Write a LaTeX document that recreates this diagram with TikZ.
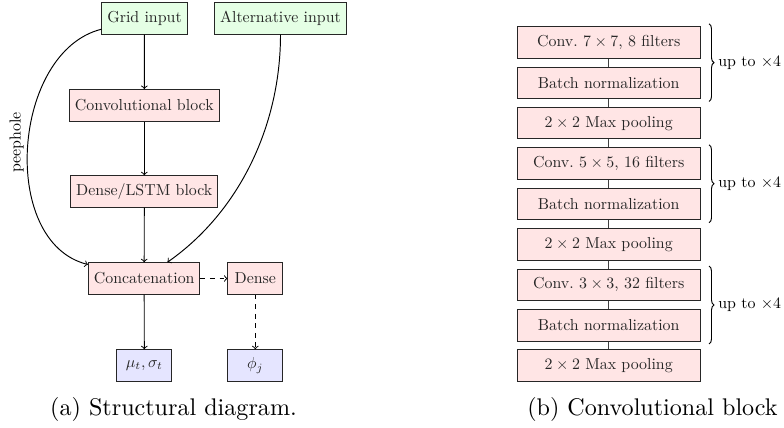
\documentclass[tikz,border=0pt]{standalone}
\usetikzlibrary{decorations.pathreplacing, calc}
\begin{document}
\begin{tikzpicture}[x=0.6288pt, y=0.6288pt,
  box/.style={draw=black!85, line width=0.6pt, minimum height=19.8pt, inner xsep=3.4pt, inner ysep=0pt,
    minimum width=34.4pt, font=\fontsize{10}{12}\selectfont, text=black!85},
  inbox/.style={box, fill=green!10},
  procbox/.style={box, fill=red!10},
  outbox/.style={box, fill=blue!10},
  layerbox/.style={box, fill=red!10, minimum width=114.9pt},
  flow/.style={->, line width=0.6pt},
  dflow/.style={->, dashed, line width=0.6pt},
  link/.style={line width=0.6pt, draw=black!75},
  grp/.style={decorate, decoration={brace, amplitude=3.1pt}, line width=0.6pt},
  grplabel/.style={font=\fontsize{10}{12}\selectfont, anchor=west, inner sep=0pt},
  caption/.style={inner sep=0pt}]
\useasboundingbox (0,0) rectangle (784,-428);

% structural diagram
\node[inbox] (grid) at (144.5,-18.5) {Grid input};
\node[inbox] (alt) at (280.5,-18.5) {Alternative input};
\node[procbox] (conv) at (144.3,-105.3) {Convolutional block};
\node[procbox] (lstm) at (144.3,-191.5) {Dense/LSTM block};
\node[procbox] (concat) at (144.2,-278.5) {Concatenation};
\node[procbox] (dense) at (255.3,-278.5) {Dense};
\node[outbox] (mu) at (144.3,-365.5) {$\mu_t, \sigma_t$};
\node[outbox] (phi) at (255.3,-365.5) {$\phi_j$};

\draw[flow] (grid) -- (conv);
\draw[flow] (conv) -- (lstm);
\draw[flow] (lstm) -- (concat);
\draw[flow] (concat) -- (mu);
\draw[dflow] (concat) -- (dense);
\draw[dflow] (dense) -- (phi);
\draw[flow] (grid) to[out=194, in=166, looseness=1.0] (concat);
\draw[flow] (alt) to[out=270, in=35, looseness=0.9] (concat);
\node[rotate=90, font=\fontsize{10}{12}\selectfont, inner sep=0pt] (peep) at (16.7,-142.5) {peephole};

\node[caption] (capa) at (173.5,-409) {\scalebox{1.515}{\fontsize{10}{12}\selectfont (a) Structural diagram.}};

% convolutional block
\node[layerbox] (c1) at (608.7,-42.5) {Conv.\ $7\times7$, 8 filters};
\node[layerbox] (b1) at (608.7,-82.8) {Batch normalization};
\node[layerbox] (p1) at (608.7,-123.2) {$2\times2$ Max pooling};
\node[layerbox] (c2) at (608.7,-163.5) {Conv.\ $5\times5$, 16 filters};
\node[layerbox] (b2) at (608.7,-204) {Batch normalization};
\node[layerbox] (p2) at (608.7,-244.3) {$2\times2$ Max pooling};
\node[layerbox] (c3) at (608.7,-284.8) {Conv.\ $3\times3$, 32 filters};
\node[layerbox] (b3) at (608.7,-325.3) {Batch normalization};
\node[layerbox] (p3) at (608.7,-365.7) {$2\times2$ Max pooling};

\foreach \a/\b in {c1/b1, b1/p1, p1/c2, c2/b2, b2/p2, p2/c3, c3/b3, b3/p3}
  \draw[link] (\a) -- (\b);

\foreach \a/\b/\n in {c1/b1/1, c2/b2/2, c3/b3/3} {
  \coordinate (top\n) at ([shift={(8.5,2.5)}]\a.north east);
  \coordinate (bot\n) at ([shift={(8.5,-2.5)}]\b.south east);
  \draw[grp] (top\n) -- (bot\n);
  \node[grplabel] (rep\n) at ($(top\n)!0.5!(bot\n) + (9,0)$) {up to $\times4$};
}

\node[caption, anchor=west] (capb) at (527,-409) {\scalebox{1.515}{\fontsize{10}{12}\selectfont (b) Convolutional block}};
\end{tikzpicture}
\end{document}
